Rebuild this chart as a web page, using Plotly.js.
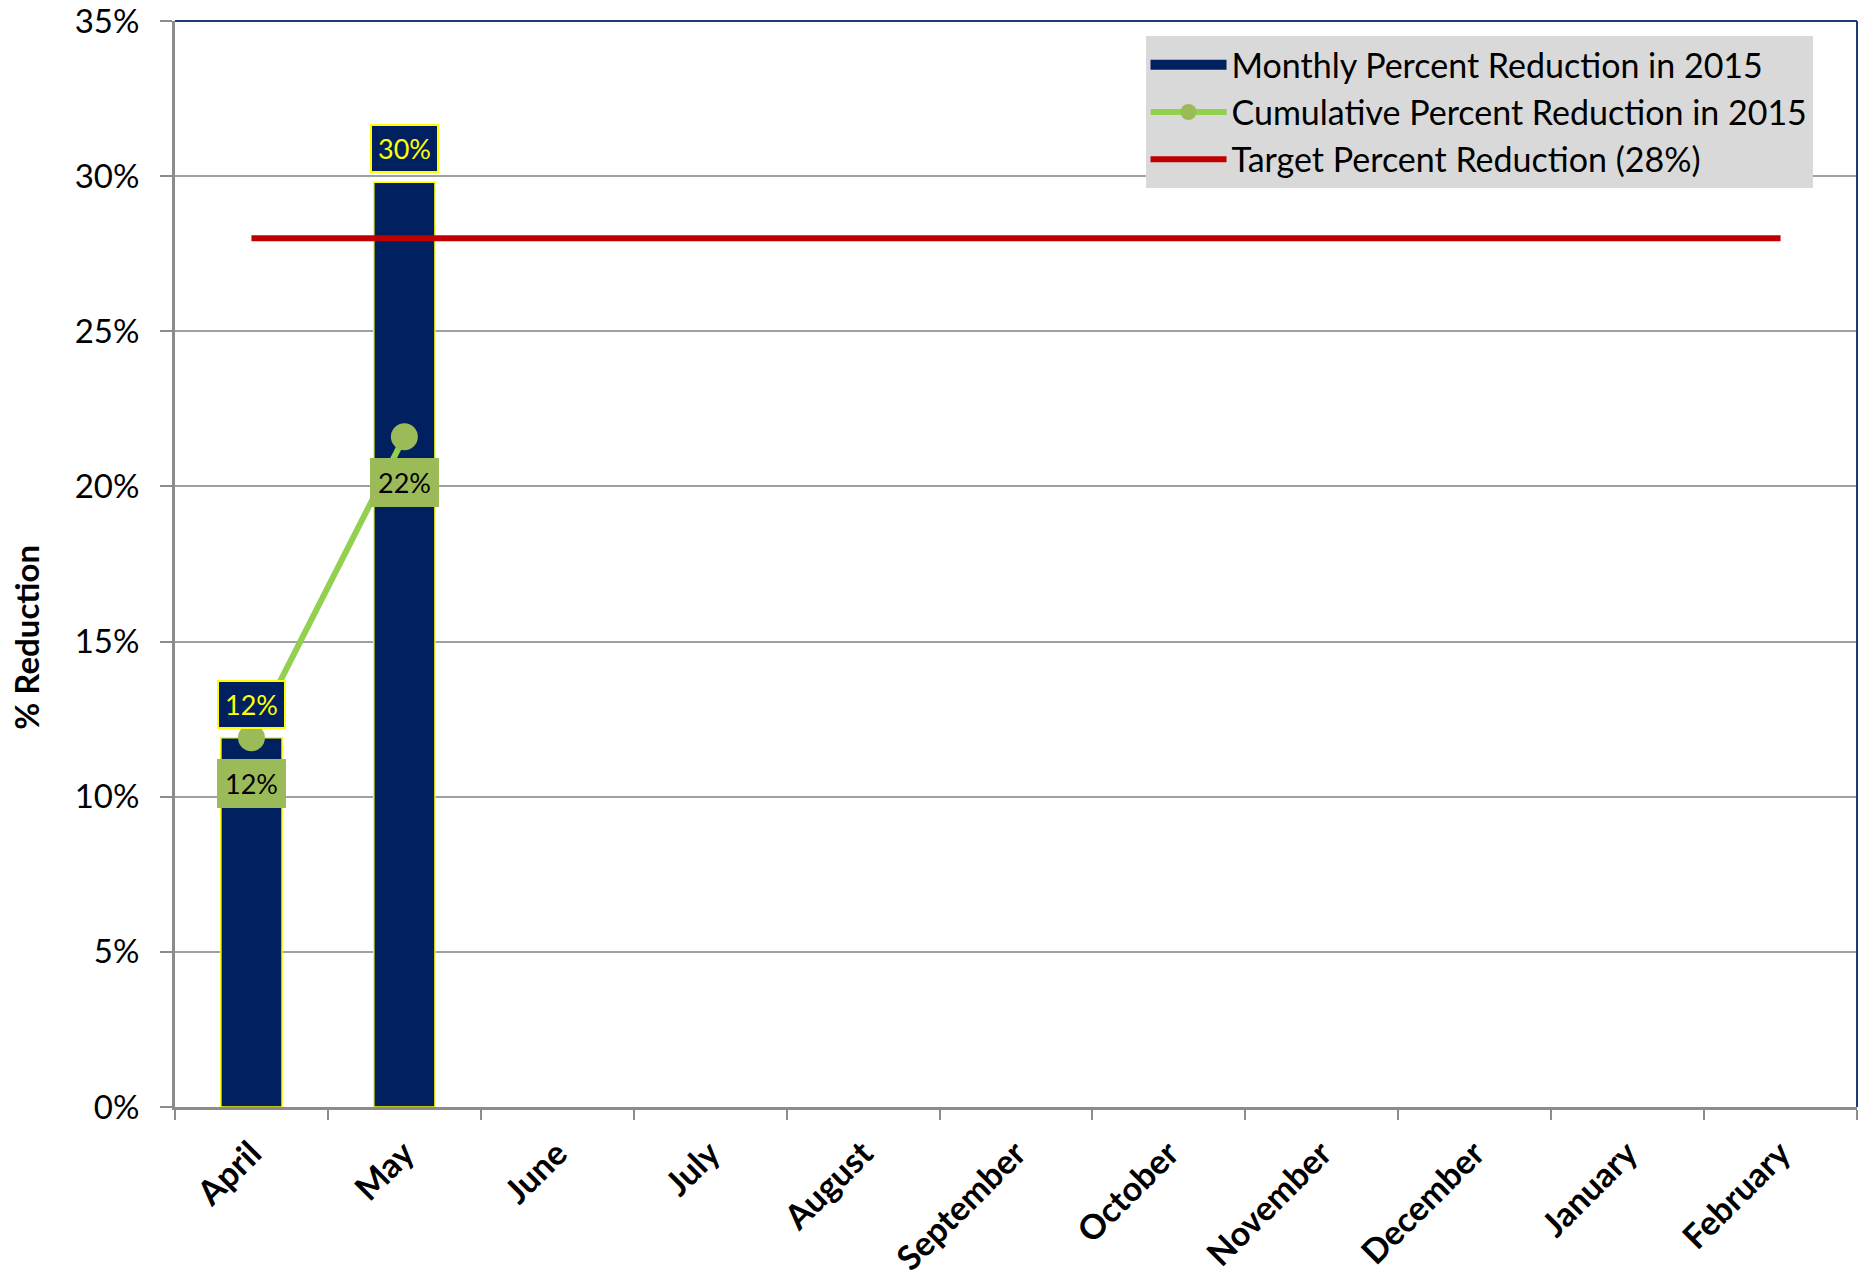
<!DOCTYPE html>
<html>
<head>
<meta charset="utf-8">
<script src="https://cdn.plot.ly/plotly-3.0.1.min.js"></script>
<style>html,body{margin:0;padding:0;background:#fff;}#chart{width:1867px;height:1279px;}</style>
</head>
<body>
<div id="chart"></div>
<script>
const months = ["April","May","June","July","August","September","October","November","December","January","February"];
const monthlyReduction = [0.119, 0.298, null, null, null, null, null, null, null, null, null];
const cumulativeReduction = [0.119, 0.216, null, null, null, null, null, null, null, null, null];
const targetReduction = [0.28, 0.28, 0.28, 0.28, 0.28, 0.28, 0.28, 0.28, 0.28, 0.28, 0.28];
const monthlyLabels = ["12%", "30%"];
const cumulativeLabels = ["12%", "22%"];
const yTickVals = [0, 0.05, 0.10, 0.15, 0.20, 0.25, 0.30, 0.35];
const yTickText = ["0%", "5%", "10%", "15%", "20%", "25%", "30%", "35%"];
const yTitle = "% Reduction";

const FONT = "Lato, 'Open Sans', sans-serif";

const traces = [
  {
    type: "bar", name: "Monthly Percent Reduction in 2015",
    x: months, y: monthlyReduction,
    marker: {color: "#002060", line: {color: "#FFFF00", width: 1.5}},
    width: 0.4, hoverinfo: "skip", showlegend: false
  },
  {
    type: "scatter", mode: "lines", name: "Monthly Percent Reduction in 2015",
    x: [null], y: [null], legendgroup: "a",
    line: {color: "#002060", width: 18}, hoverinfo: "skip"
  },
  {
    type: "scatter", mode: "lines+markers", name: "Cumulative Percent Reduction in 2015",
    x: months, y: cumulativeReduction, legendgroup: "b",
    line: {color: "#92D050", width: 6},
    marker: {color: "#9BBB59", size: 27},
    connectgaps: false, hoverinfo: "skip"
  },
  {
    type: "scatter", mode: "lines", name: "Target Percent Reduction (28%)",
    x: months, y: targetReduction, legendgroup: "c",
    line: {color: "#C00000", width: 6},
    hoverinfo: "skip"
  }
];

const annotations = [];
monthlyLabels.forEach((t, i) => {
  annotations.push({
    x: months[i], y: monthlyReduction[i], xref: "x", yref: "y",
    text: t, showarrow: false, yanchor: "bottom", yshift: 9,
    font: {family: FONT, size: 27, color: "#FFFF00"},
    bgcolor: "#002060", bordercolor: "#FFFF00", borderwidth: 2, borderpad: 6
  });
});
cumulativeLabels.forEach((t, i) => {
  annotations.push({
    x: months[i], y: cumulativeReduction[i], xref: "x", yref: "y",
    text: t, showarrow: false, yanchor: "top", yshift: -21,
    font: {family: FONT, size: 27, color: "#000000"},
    bgcolor: "#9BBB59", borderwidth: 0, borderpad: 8
  });
});
annotations.push({
  xref: "paper", yref: "paper", x: -0.0886, y: 0.433,
  text: yTitle, textangle: -90, showarrow: false,
  xanchor: "center", yanchor: "middle",
  font: {family: FONT, size: 33, color: "#000000", weight: "bold"}
});

const layout = {
  width: 1867, height: 1279,
  margin: {l: 175, r: 10, t: 21, b: 172},
  paper_bgcolor: "#ffffff", plot_bgcolor: "#ffffff",
  font: {family: FONT, color: "#000000"},
  showlegend: true,
  legend: {
    x: 0.577, y: 0.986, xanchor: "left", yanchor: "top",
    bgcolor: "#D9D9D9", borderwidth: 0,
    font: {family: FONT, size: 34, color: "#000000"},
    traceorder: "grouped", tracegroupgap: 0, itemwidth: 76
  },
  bargap: 0.6,
  xaxis: {
    type: "category", categoryorder: "array", categoryarray: months,
    range: [-0.5, 10.5],
    tickangle: -45, tickson: "boundaries",
    ticks: "outside", ticklen: 10, tickwidth: 2, tickcolor: "#8C8C8C",
    showline: true, linecolor: "#8C8C8C", linewidth: 3,
    showgrid: false, zeroline: false, ticklabelstandoff: 10,
    tickfont: {family: FONT, size: 34, color: "#000000", weight: "bold"}
  },
  yaxis: {
    range: [0, 0.35], tickvals: yTickVals, ticktext: yTickText,
    ticks: "outside", ticklen: 12, tickwidth: 2, tickcolor: "#8C8C8C",
    showline: true, linecolor: "#8C8C8C", linewidth: 3,
    showgrid: true, gridcolor: "#A0A0A0", gridwidth: 2,
    zeroline: false, ticklabelstandoff: 14, ticklabeloverflow: "allow",
    tickfont: {family: FONT, size: 33, color: "#000000"}
  },
  shapes: [
    {type: "line", xref: "paper", yref: "paper", x0: 0, x1: 1, y0: 1, y1: 1, line: {color: "#1F3A7A", width: 2}},
    {type: "line", xref: "paper", yref: "paper", x0: 1, x1: 1, y0: 0, y1: 1, line: {color: "#1F3A7A", width: 2}}
  ],
  annotations: annotations
};

Plotly.newPlot("chart", traces, layout, {displayModeBar: false, staticPlot: true});
</script>
</body>
</html>
